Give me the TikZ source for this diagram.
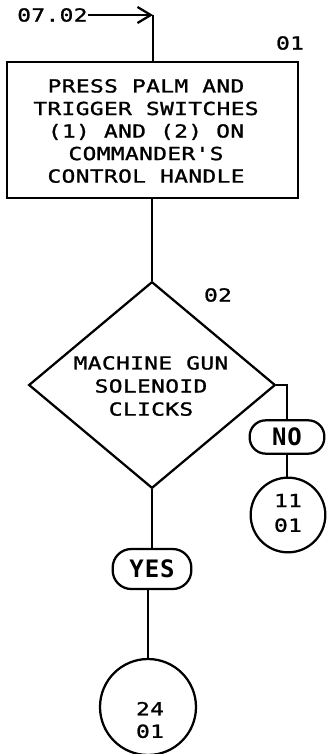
\documentclass[tikz,border=0pt]{standalone}
\usepackage{fontspec}
\usepackage{tikz}
\usetikzlibrary{arrows.meta,positioning,shapes.geometric}
\newfontfamily\plotfont[FakeStretch=1.27,FakeBold=1.3,LetterSpace=2]{DejaVu Sans Mono}
\newfontfamily\plotbold[FakeStretch=1.0,LetterSpace=4]{DejaVu Sans Mono Bold}
\tikzset{
  plottext/.style={font={\plotfont\fontsize{13.5}{16.9}\selectfont},align=center},
  stepbox/.style={draw,line width=1.7pt,minimum width=218pt,minimum height=102pt,inner sep=0pt},
  testbox/.style={draw,diamond,line width=1.7pt,minimum width=185pt,minimum height=155pt,inner sep=0pt},
  answer/.style={draw,line width=1.7pt,rounded corners=12pt,inner sep=0pt,
    font={\plotbold\fontsize{18}{18}\selectfont}},
  gotoref/.style={draw,circle,line width=1.7pt,inner sep=0pt},
  flow/.style={line width=1.7pt}
}
\begin{document}
\begin{tikzpicture}[x=0.75pt,y=-0.75pt]
  \useasboundingbox (0,0) rectangle (326,754);
  % entry from 07.02
  \node[plottext,anchor=west,inner sep=0pt] (from) at (17,15) {07.02};
  \coordinate (entry) at (153,15);
  \draw[flow,-{Straight Barb[length=10pt,width=12pt]}] (from.east) -- (entry);
  % step 01
  \node[stepbox] (press) at (152.5,130) {};
  \node[plottext] (presstext) at (146,131)
    {PRESS PALM AND\\TRIGGER SWITCHES\\(1) AND (2) ON\\COMMANDER'S\\CONTROL HANDLE};
  \node[plottext] (n01) at (290,43) {01};
  \draw[flow] (entry) -- (entry |- press.north);
  % step 02
  \node[testbox] (clicks) at (152,385) {};
  \node[plottext,font={\plotfont\fontsize{13.5}{17.3}\selectfont}] (clickstext) at (151,386)
    {MACHINE GUN\\SOLENOID\\CLICKS};
  \node[plottext] (n02) at (218,295) {02};
  \draw[flow] (press.south -| clicks.north) -- (clicks.north);
  % no branch
  \node[answer,minimum width=56pt,minimum height=25pt] (no) at (287,437) {NO};
  \node[gotoref,minimum size=56pt] (to11) at (288,515) {};
  \node[plottext,font={\plotfont\fontsize{13.5}{18.5}\selectfont}] (to11text) at (288,513) {11\\01};
  \draw[flow] (clicks.east) -| (no.north);
  \draw[flow] (no.south) -- (no.south |- to11.north);
  % yes branch
  \node[answer,minimum width=59pt,minimum height=30pt,rounded corners=14pt] (yes) at (152,569) {YES};
  \node[gotoref,minimum size=72pt] (to24) at (148,707) {};
  \node[plottext] (to24text) at (150,720) {24\\01};
  \draw[flow] (clicks.south) -- (clicks.south |- yes.north);
  \draw[flow] (yes.south -| to24.north) -- (to24.north);
\end{tikzpicture}
\end{document}
